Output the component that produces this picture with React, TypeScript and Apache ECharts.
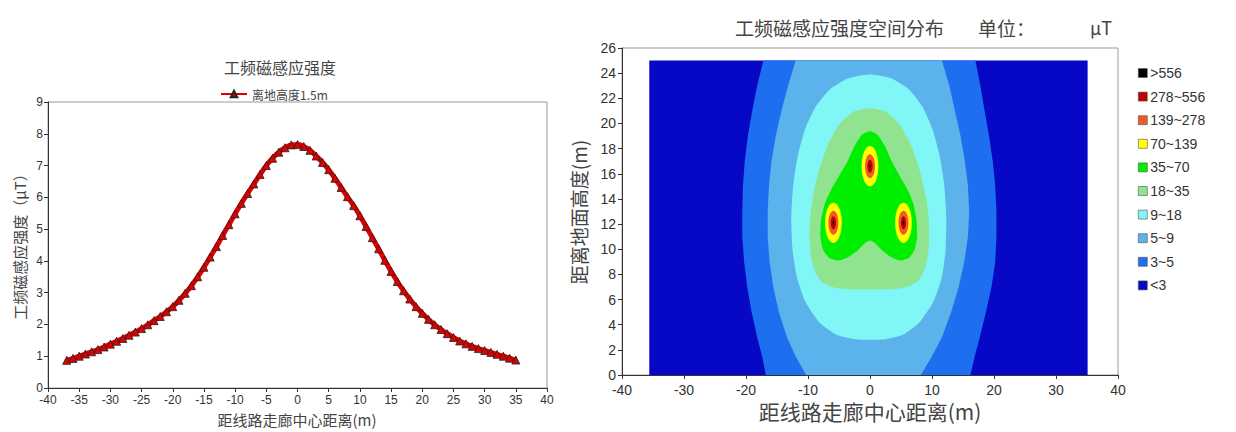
import React, { useEffect, useRef } from "react";
import * as echarts from "echarts";

// ---------- Left chart data: field strength along the profile (1.5 m above ground)
const distanceX = [
  -37, -36, -35, -34, -33, -32, -31, -30, -29, -28, -27, -26, -25, -24, -23, -22, -21, -20,
  -19, -18, -17, -16, -15, -14, -13, -12, -11, -10, -9, -8, -7, -6, -5, -4, -3, -2, -1, 0,
  1, 2, 3, 4, 5, 6, 7, 8, 9, 10, 11, 12, 13, 14, 15, 16, 17, 18, 19, 20, 21, 22, 23, 24, 25,
  26, 27, 28, 29, 30, 31, 32, 33, 34, 35,
];
const fieldB = [
  0.87, 0.93, 1.0, 1.07, 1.14, 1.21, 1.29, 1.38, 1.47, 1.56, 1.66, 1.76, 1.87, 1.99, 2.12, 2.25, 2.4, 2.56,
  2.76, 2.98, 3.22, 3.5, 3.8, 4.12, 4.45, 4.8, 5.14, 5.48, 5.81, 6.12, 6.42, 6.72, 7.0, 7.23, 7.42, 7.56, 7.65, 7.66,
  7.6, 7.48, 7.3, 7.1, 6.87, 6.6, 6.31, 6.02, 5.74, 5.42, 5.08, 4.73, 4.38, 4.02, 3.67, 3.35, 3.06, 2.8, 2.56, 2.35, 2.16, 1.99, 1.84, 1.71, 1.59,
  1.48, 1.39, 1.31, 1.24, 1.18, 1.12, 1.06, 1.0, 0.94, 0.88,
];
const seriesName = "离地高度1.5m";

// ---------- Right chart data: contour bands of the spatial distribution
const levelNames = [">556", "278~556", "139~278", "70~139", "35~70", "18~35", "9~18", "5~9", "3~5", "<3"];
const levelColors = ["#000000", "#c00000", "#f05a28", "#ffff00", "#00ee00", "#90e490", "#80f6f6", "#5cb2ea", "#1e6ef0", "#0707c6"];

const fieldExtentX = [-35.6, 35.1];
const fieldExtentY = [0, 25];

const contour3 = [
  [-17.2, 25], [-18.2, 23], [-19.0, 21], [-19.7, 19], [-20.2, 17], [-20.5, 15], [-20.6, 13], [-20.6, 11],
  [-20.3, 9], [-19.8, 7], [-19.1, 5], [-18.2, 3], [-17.4, 1.5], [-16.8, 0],
  [16.2, 0], [16.9, 1.5], [17.7, 3], [18.7, 5], [19.6, 7], [20.2, 9], [20.4, 11], [20.4, 13],
  [20.2, 15], [19.8, 17], [19.2, 19], [18.5, 21], [17.8, 23], [17.0, 25],
];
const contour5 = [
  [-12.0, 25], [-13.2, 23], [-14.3, 21], [-15.2, 19], [-15.9, 17], [-16.3, 15], [-16.5, 13], [-16.5, 11],
  [-16.2, 9], [-15.6, 7], [-14.7, 5], [-13.4, 3], [-12.0, 1.5], [-10.3, 0],
  [8.2, 0], [10.0, 1.5], [11.6, 3], [13.1, 5], [14.3, 7], [15.2, 9], [15.8, 11], [16.0, 13],
  [15.8, 15], [15.3, 17], [14.6, 19], [13.7, 21], [12.8, 23], [11.6, 25],
];
const contour9 = [
  [0, 23.9], [-3.5, 23.6], [-6.5, 22.7], [-8.8, 21.3], [-10.5, 19.5], [-11.7, 17.3], [-12.4, 15], [-12.7, 12.5],
  [-12.5, 10], [-11.8, 7.8], [-10.4, 5.8], [-8.2, 4.2], [-5.4, 3.2], [-2.5, 2.85], [0, 2.8], [2.5, 2.85],
  [5.3, 3.2], [8.0, 4.2], [10.2, 5.8], [11.6, 7.8], [12.2, 10], [12.3, 12.5], [12.0, 15], [11.3, 17.3],
  [10.1, 19.5], [8.5, 21.3], [6.3, 22.7], [3.4, 23.6],
];
const contour18 = [
  [0, 21.2], [-2.8, 20.9], [-5.0, 19.9], [-6.8, 18.3], [-8.2, 16.3], [-9.2, 14.2], [-9.7, 12.2], [-9.7, 10.3],
  [-9.2, 8.7], [-8.0, 7.5], [-5.8, 6.95], [-3, 6.8], [0, 6.8], [3, 6.8], [5.6, 6.95], [7.8, 7.5],
  [9.0, 8.7], [9.5, 10.3], [9.5, 12.2], [9.0, 14.2], [8.0, 16.3], [6.6, 18.3], [4.8, 19.9], [2.7, 20.9],
];
const contour35 = [
  [0, 19.4], [-1.3, 19.1], [-2.5, 18.2], [-3.6, 17.0], [-4.9, 15.9], [-6.2, 14.8], [-7.3, 13.6], [-7.9, 12.3],
  [-8.0, 11.0], [-7.6, 10.0], [-6.6, 9.3], [-5.0, 9.1], [-3.4, 9.4], [-2.0, 9.9], [-0.8, 10.5], [0, 10.7],
  [0.8, 10.5], [2.0, 9.9], [3.3, 9.4], [4.8, 9.1], [6.3, 9.3], [7.2, 10.0], [7.6, 11.0], [7.5, 12.3],
  [7.0, 13.6], [6.0, 14.8], [4.7, 15.9], [3.5, 17.0], [2.4, 18.2], [1.2, 19.1],
];
const conductors = [[-5.9, 12.1], [0, 16.6], [5.4, 12.1]];
const spotRadius70 = [1.35, 1.6];
const spotRadius139 = [0.8, 0.95];
const spotRadius278 = [0.42, 0.52];
const spotRadius556 = [0.12, 0.16];

const xTicksLeft = { min: -40, max: 40, interval: 5 };
const yTicksLeft = { min: 0, max: 9, interval: 1 };
const xTicksRight = { min: -40, max: 40, interval: 10 };
const yTicksRight = { min: 0, max: 26, interval: 2 };

const CJK = "'Noto Sans CJK SC', sans-serif";
const LAT = "'Liberation Sans', Arial, sans-serif";

function polygonSeries(name: string, color: string, pts: number[][], smooth: number) {
  return {
    type: "custom",
    name,
    xAxisIndex: 1,
    yAxisIndex: 1,
    silent: true,
    itemStyle: { color },
    data: [[0, 12]],
    renderItem: (_p: any, api: any) => ({
      type: "polygon",
      shape: { points: pts.map((p) => api.coord(p)), smooth },
      style: { fill: color },
    }),
  };
}

function spotSeries(name: string, color: string, r: number[]) {
  return {
    type: "custom",
    name,
    xAxisIndex: 1,
    yAxisIndex: 1,
    silent: true,
    itemStyle: { color },
    data: conductors,
    renderItem: (_p: any, api: any) => {
      const c = api.coord([api.value(0), api.value(1)]);
      const s = api.size([r[0], r[1]]);
      return {
        type: "ellipse",
        shape: { cx: c[0], cy: c[1], rx: s[0], ry: s[1] },
        style: { fill: color },
      };
    },
  };
}

export default function App() {
  const ref = useRef<HTMLDivElement>(null);
  useEffect(() => {
    if (!ref.current) return;
    const chart = echarts.init(ref.current, null, { renderer: "svg" });

    const axisCommon = {
      axisLine: { show: true, onZero: false, lineStyle: { color: "#333", width: 1 } },
      axisTick: { show: true, length: 4, lineStyle: { color: "#333" } },
      splitLine: { show: false },
    };

    const option: any = {
      animation: false,
      backgroundColor: "#ffffff",
      grid: [
        { left: 48, top: 102, width: 499, height: 286, show: true, borderColor: "#9a9a9a", borderWidth: 1, backgroundColor: "transparent" },
        { left: 622, top: 48, width: 496, height: 327, show: true, borderColor: "#9a9a9a", borderWidth: 1, backgroundColor: "transparent" },
      ],
      xAxis: [
        {
          type: "value", gridIndex: 0, ...xTicksLeft, ...axisCommon,
          axisLabel: { fontSize: 12, color: "#333", fontFamily: LAT, margin: 6 },
        },
        {
          type: "value", gridIndex: 1, ...xTicksRight, ...axisCommon,
          axisLabel: { fontSize: 14, color: "#333", fontFamily: LAT, margin: 8 },
        },
      ],
      yAxis: [
        {
          type: "value", gridIndex: 0, ...yTicksLeft, ...axisCommon,
          axisLabel: { fontSize: 12, color: "#333", fontFamily: LAT, margin: 5 },
        },
        {
          type: "value", gridIndex: 1, ...yTicksRight, ...axisCommon,
          axisLabel: { fontSize: 14, color: "#333", fontFamily: LAT, margin: 6 },
        },
      ],
      legend: [
        {
          data: [seriesName],
          left: 215,
          top: 83,
          itemWidth: 26,
          itemHeight: 8,
          textStyle: { fontSize: 12, color: "#444", fontFamily: CJK },
        },
        {
          data: levelNames,
          orient: "vertical",
          left: 1133,
          top: 61,
          icon: "rect",
          itemWidth: 9,
          itemHeight: 9,
          itemGap: 9.6,
          itemStyle: { borderColor: "#555", borderWidth: 0.6 },
          textStyle: { fontSize: 14, lineHeight: 13, color: "#333", fontFamily: LAT, padding: [0, 0, 0, -2] },
        },
      ],
      graphic: [
        { type: "text", x: 280, y: 67, style: { text: "工频磁感应强度", fontSize: 16, fontFamily: CJK, fill: "#444", align: "center", verticalAlign: "middle" } },
        { type: "text", x: 297, y: 419, style: { text: "距线路走廊中心距离(m)", fontSize: 15, fontFamily: CJK, fill: "#444", align: "center", verticalAlign: "middle" } },
        { type: "text", x: 19, y: 243, rotation: Math.PI / 2, style: { text: "工频磁感应强度（μT）", fontSize: 15, fontFamily: CJK, fill: "#444", align: "center", verticalAlign: "middle" } },
        { type: "text", x: 735, y: 27, style: { text: "工频磁感应强度空间分布", fontSize: 19, fontFamily: CJK, fill: "#444", align: "left", verticalAlign: "middle" } },
        { type: "text", x: 978, y: 27, style: { text: "单位：", fontSize: 19, fontFamily: CJK, fill: "#444", align: "left", verticalAlign: "middle" } },
        { type: "text", x: 1090, y: 27, style: { text: "μT", fontSize: 18, fontFamily: CJK, fill: "#444", align: "left", verticalAlign: "middle" } },
        { type: "text", x: 870, y: 411, style: { text: "距线路走廊中心距离(m)", fontSize: 21, fontFamily: CJK, fill: "#444", align: "center", verticalAlign: "middle" } },
        { type: "text", x: 578, y: 212, rotation: Math.PI / 2, style: { text: "距离地面高度(m)", fontSize: 19, fontFamily: CJK, fill: "#444", align: "center", verticalAlign: "middle" } },
      ],
      series: [
        {
          type: "line",
          name: seriesName,
          xAxisIndex: 0,
          yAxisIndex: 0,
          data: distanceX.map((x, i) => [x, fieldB[i]]),
          smooth: true,
          symbol: "triangle",
          symbolSize: 8,
          lineStyle: { color: "#e00000", width: 5 },
          itemStyle: { color: "#e00000", borderColor: "#222", borderWidth: 0.8 },
        },
        {
          type: "custom",
          name: levelNames[9],
          xAxisIndex: 1,
          yAxisIndex: 1,
          silent: true,
          itemStyle: { color: levelColors[9] },
          data: [[fieldExtentX[0], fieldExtentY[0], fieldExtentX[1], fieldExtentY[1]]],
          renderItem: (_p: any, api: any) => {
            const a = api.coord([api.value(0), api.value(3)]);
            const b = api.coord([api.value(2), api.value(1)]);
            return { type: "rect", shape: { x: a[0], y: a[1], width: b[0] - a[0], height: b[1] - a[1] }, style: { fill: levelColors[9] } };
          },
        },
        polygonSeries(levelNames[8], levelColors[8], contour3, 0),
        polygonSeries(levelNames[7], levelColors[7], contour5, 0),
        polygonSeries(levelNames[6], levelColors[6], contour9, 0.2),
        polygonSeries(levelNames[5], levelColors[5], contour18, 0.2),
        polygonSeries(levelNames[4], levelColors[4], contour35, 0.15),
        spotSeries(levelNames[3], levelColors[3], spotRadius70),
        spotSeries(levelNames[2], levelColors[2], spotRadius139),
        spotSeries(levelNames[1], levelColors[1], spotRadius278),
        spotSeries(levelNames[0], levelColors[0], spotRadius556),
      ],
    };
    chart.setOption(option);
    return () => chart.dispose();
  }, []);
  return <div ref={ref} style={{ position: "fixed", left: 0, top: 0, width: 1236, height: 432 }} />;
}
